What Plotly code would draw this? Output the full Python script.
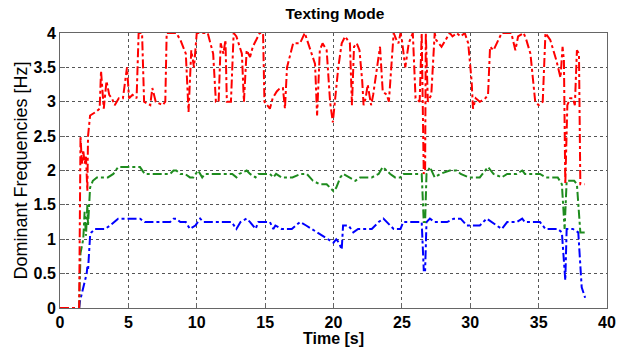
import plotly.graph_objects as go

# Red series (highest dominant frequency)
red_t = [0, 1.4, 1.5, 1.6, 1.7, 1.8, 1.9, 2.0, 2.05, 2.2, 2.6, 2.9, 3.0, 3.2, 3.4, 3.6, 3.8, 4.0, 4.3, 4.6,
         4.9, 5.05, 5.3, 5.6, 5.75, 6.0, 6.15, 6.6, 6.75, 7.0, 7.5, 7.7, 7.8, 8.5, 8.8, 9.2, 9.4, 9.6, 9.8,
         10.0, 10.8, 11.2, 11.4, 11.6, 11.75, 11.95, 12.1, 12.2, 12.5, 12.7, 12.9, 13.3, 13.45, 13.65, 13.9,
         14.1, 14.6, 14.85, 14.95, 15.35, 15.55, 15.85, 16.1, 16.3, 16.45, 16.6, 17.05, 17.55, 17.9, 18.4,
         18.65, 18.8, 19.0, 19.2, 19.5, 19.75, 19.95, 20.1, 20.35, 20.6, 20.85, 21.2, 21.35, 21.5, 21.7,
         21.9, 22.1, 22.2, 22.35, 22.5, 22.75, 22.9, 23.2, 23.4, 23.6, 23.9, 24.05, 24.4, 24.6, 24.75, 24.9,
         25.0, 25.25, 25.5, 25.8, 26.0, 26.3, 26.45, 26.6, 26.7, 26.75, 26.9, 27.15, 27.4, 27.5, 27.9, 28.2,
         28.5, 28.7, 29.0, 29.3, 29.6, 29.85, 30.1, 30.2, 30.4, 30.7, 31.1, 31.3, 31.45, 31.7, 31.95, 32.3,
         33.0, 33.3, 33.5, 33.9, 34.1, 34.4, 34.75, 35.0, 35.3, 35.5, 35.85, 36.3, 36.6, 36.75, 36.85, 36.95,
         37.1, 37.3, 37.5, 37.65, 37.8, 37.95, 38.05, 38.35]
red_f = [0, 0, 2.5, 2.1, 2.3, 2.1, 2.2, 1.7, 2.5, 2.8, 2.85, 2.9, 3.45, 2.9, 3.3, 3.1, 3.05, 2.95, 3.05, 3.05,
         3.5, 3.05, 3.1, 3.05, 4.0, 4.0, 3.0, 2.95, 3.2, 3.0, 2.95, 3.0, 4.0, 4.0, 3.9, 3.7, 2.85, 3.75, 3.5,
         4.0, 4.0, 3.7, 3.0, 3.0, 3.85, 3.7, 3.9, 3.0, 3.0, 4.0, 3.95, 3.7, 3.0, 3.75, 3.65,
         3.8, 4.0, 4.0, 3.0, 2.9, 3.05, 3.15, 3.2, 3.2, 2.9, 3.5, 3.85, 3.85, 4.0, 3.7,
         3.55, 2.8, 3.75, 3.85, 3.75, 3.0, 2.7, 3.0, 3.5, 3.85, 3.95, 3.85, 2.95, 3.8, 3.85,
         3.75, 3.3, 2.95, 3.05, 3.25, 2.95, 3.1, 3.5, 3.8, 3.15, 3.1, 3.0, 4.0, 3.9, 3.85, 4.0,
         3.9, 3.5, 3.85, 4.0, 3.05, 3.0, 4.0, 1.95, 2.0, 4.0, 3.0, 3.1, 4.0, 3.9, 3.8, 3.9,
         4.0, 3.95, 4.0, 3.95, 4.0, 3.85, 3.3, 2.9, 3.05, 3.0, 3.05, 3.1, 3.8, 3.75, 3.85, 4.0,
         4.0, 3.75, 3.95, 4.0, 3.9, 3.7, 3.0, 2.95, 3.0, 4.0, 3.9, 3.6, 3.35, 3.8, 3.6, 1.8,
         2.95, 3.05, 3.05, 2.95, 3.75, 3.7, 1.8, 1.8]

# Green series (middle dominant frequency)
green_t = [0, 1.4, 1.5, 1.7, 1.8, 1.9, 2.0, 2.05, 2.2, 2.4, 2.7, 3.5, 3.9, 4.25, 5.85, 6.2, 8.05, 8.3, 8.5,
           8.8, 9.15, 9.5, 9.75, 9.9, 10.1, 10.4, 10.6, 12.6, 12.9, 13.1, 13.65, 13.9, 14.3, 14.5, 15.35, 15.6,
           15.8, 16.2, 17.0, 17.6, 18.05, 18.5, 19.0, 19.5, 20.0, 20.2, 20.5, 20.7, 21.2, 21.6, 21.95, 22.8,
           23.3, 23.6, 24.15, 24.5, 24.9, 25.1, 26.45, 26.6, 26.7, 26.8, 27.05, 27.4, 27.8, 28.5, 29.0, 29.3,
           29.9, 30.7, 30.9, 31.3, 31.5, 31.7, 32.3, 32.7, 33.4, 33.8, 34.0, 35.1, 35.5, 36.4, 36.7, 36.9,
           37.05, 37.6, 37.8, 38.05, 38.4]
green_f = [0, 0, 0.8, 1.0, 1.4, 1.05, 1.5, 1.2, 1.75, 1.85, 1.9, 1.9, 1.95, 2.05, 2.05, 1.95, 1.95, 2.0, 2.0,
           1.95, 1.95, 1.9, 1.9, 1.95, 2.0, 1.9, 1.95, 1.95, 1.9, 1.95, 2.0, 1.95, 1.9, 1.95, 1.95, 1.9,
           1.95, 1.9, 1.9, 1.95, 1.95, 1.85, 1.8, 1.8, 1.7, 1.75, 1.9, 1.95, 1.9, 1.85, 1.9, 1.9,
           1.95, 2.05, 1.95, 1.9, 1.9, 1.95, 1.95, 1.25, 1.25, 1.95, 2.05, 1.9, 1.95, 2.0, 2.0, 1.95,
           1.9, 1.9, 1.95, 2.05, 2.0, 1.95, 1.9, 1.95, 1.95, 2.0, 1.95, 1.95, 1.9, 1.9, 1.8, 1.15,
           1.85, 1.85, 1.8, 1.1, 1.1]

# Blue series (lowest dominant frequency)
blue_t = [0, 1.4, 1.46, 1.7, 1.95, 2.0, 2.05, 2.2, 2.3, 2.56, 3.3, 3.66, 4.0, 4.25, 5.85, 6.2, 8.05, 8.3,
          8.5, 8.8, 9.2, 9.5, 9.9, 10.25, 10.5, 12.55, 12.9, 13.2, 13.65, 13.9, 14.3, 14.5, 15.35, 15.6,
          15.75, 16.2, 16.95, 17.55, 18.0, 18.4, 18.8, 19.25, 19.6, 20.0, 20.2, 20.4, 20.6, 20.7, 21.1,
          21.45, 21.8, 22.8, 23.3, 23.65, 24.4, 24.9, 25.1, 26.45, 26.6, 26.7, 26.8, 27.05, 27.4, 28.3,
          28.8, 29.3, 29.75, 30.7, 31.2, 31.6, 32.3, 32.7, 33.4, 33.8, 34.0, 35.1, 35.5, 36.4, 36.7, 36.95,
          37.05, 37.5, 37.9, 38.15, 38.4]
blue_f = [0, 0, 0.1, 0.3, 0.5, 0.6, 0.55, 1.05, 1.1, 1.15, 1.15, 1.2, 1.25, 1.3, 1.3, 1.25, 1.25, 1.3,
          1.3, 1.25, 1.25, 1.15, 1.2, 1.3, 1.25, 1.25, 1.15, 1.25, 1.3, 1.25, 1.15, 1.25, 1.25, 1.15,
          1.2, 1.15, 1.15, 1.25, 1.2, 1.15, 1.1, 1.05, 1.0, 0.95, 1.0, 0.95, 0.85, 1.2, 1.2,
          1.1, 1.15, 1.15, 1.25, 1.3, 1.15, 1.15, 1.25, 1.25, 0.55, 0.55, 1.25, 1.3, 1.25, 1.25,
          1.3, 1.3, 1.2, 1.2, 1.3, 1.25, 1.15, 1.25, 1.25, 1.3, 1.25, 1.25, 1.15, 1.15, 1.1, 0.4,
          1.15, 1.15, 1.1, 0.3, 0.15]

x_ticks = [0, 5, 10, 15, 20, 25, 30, 35, 40]
y_ticks = [0, 0.5, 1, 1.5, 2, 2.5, 3, 3.5, 4]
y_tick_text = ["0", "0.5", "1", "1.5", "2", "2.5", "3", "3.5", "4"]

FONT = "Liberation Sans, Arial, sans-serif"

fig = go.Figure()
for t, f, c in [(blue_t, blue_f, "#0000FF"), (green_t, green_f, "#1E8C1E"), (red_t, red_f, "#FF0000")]:
    fig.add_trace(go.Scatter(x=t, y=f, mode="lines", line=dict(color=c, width=2, dash="dashdot"),
                             showlegend=False, cliponaxis=True))

axis_common = dict(showline=True, mirror=True, linecolor="#666666", linewidth=1,
                   showgrid=True, gridcolor="#555555", griddash="dot", gridwidth=1,
                   ticks="inside", ticklen=5, tickcolor="#666666", zeroline=False,
                   automargin=False,
                   tickfont=dict(family=FONT, size=16, color="black", weight="bold"))

fig.update_layout(
    width=626, height=347,
    margin=dict(l=60, r=19, t=33, b=39),
    paper_bgcolor="white", plot_bgcolor="white",
    title=dict(text="<b>Texting Mode</b>", x=0.535, xanchor="center", y=0.962, yanchor="middle",
               font=dict(family=FONT, size=15.5, color="black")),
    xaxis=dict(range=[0, 40], tickvals=x_ticks,
               title=dict(text="<b>Time [s]</b>", font=dict(family=FONT, size=16, color="black"), standoff=0),
               **axis_common),
    yaxis=dict(range=[0, 4], tickvals=y_ticks, ticktext=y_tick_text,
               title=dict(text="Dominant Frequencies [Hz]", font=dict(family=FONT, size=18, color="black"),
                          standoff=1),
               **axis_common),
)

fig.write_html("out.html", config={"displayModeBar": False},
               post_script="document.body.style.margin='0';document.body.style.padding='0';")
